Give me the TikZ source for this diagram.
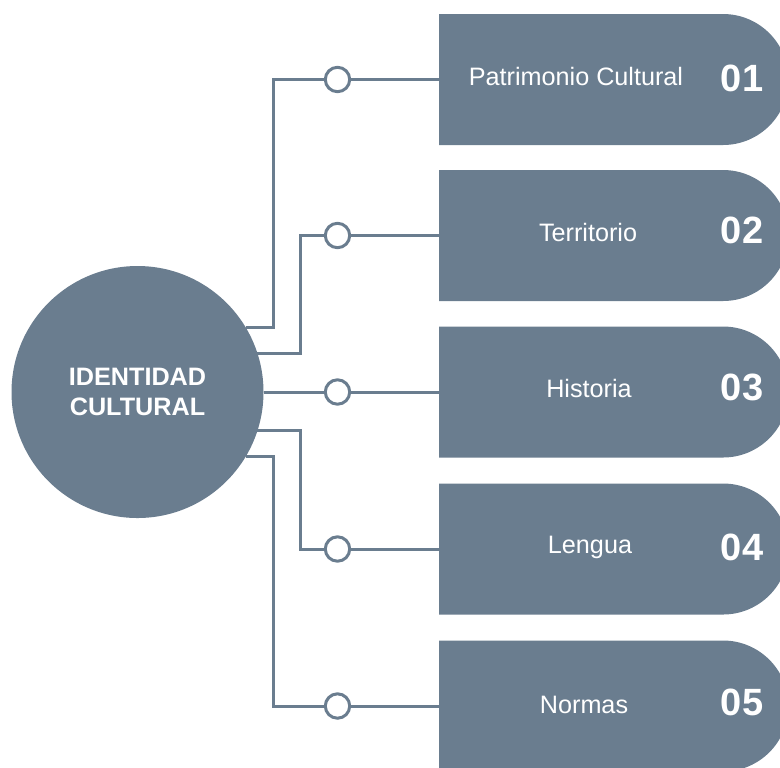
\documentclass[tikz,border=0pt]{standalone}
\usepackage{fontspec}
\setmainfont{Liberation Sans}
\usetikzlibrary{shapes.misc}
\definecolor{slate}{RGB}{106,125,143}
\tikzset{
  hub/.style={circle,fill=slate,minimum size=126pt,inner sep=0pt,outer sep=0pt,text=white,font=\fontsize{12.6}{15}\selectfont\bfseries,align=center},
  tab/.style={rounded rectangle,rounded rectangle left arc=none,fill=slate,minimum width=174.75pt,minimum height=65.5pt,inner sep=0pt,outer sep=0pt,anchor=west},
  knob/.style={circle,draw=slate,fill=white,line width=1.5pt,minimum size=12.2pt,inner sep=0pt},
  tabtext/.style={text=white,font=\fontsize{12.6}{15}\selectfont},
  tabnum/.style={text=white,font=\fontsize{19}{22}\selectfont\bfseries},
  wire/.style={draw=slate,line width=1.5pt}
}
\begin{document}
\begin{tikzpicture}[x=0.5pt,y=-0.5pt]
\useasboundingbox (0,0) rectangle (780,767);
\clip (0,0) rectangle (780,767);
% centre
\node[hub] (idc) at (137.5,392) {IDENTIDAD\\CULTURAL};
% tabs
\node[tab] (b1) at (439,79.5) {};
\node[tab] (b2) at (439,235.5) {};
\node[tab] (b3) at (439,392) {};
\node[tab] (b4) at (439,549) {};
\node[tab] (b5) at (439,706) {};
\node[tabtext] (t1) at (576,76) {Patrimonio Cultural};
\node[tabtext] (t2) at (588,232) {Territorio};
\node[tabtext] (t3) at (589,388) {Historia};
\node[tabtext] (t4) at (590,547) {Lengua};
\node[tabtext] (t5) at (584,705) {Normas};
\node[tabnum] (n1) at (742,78) {01};
\node[tabnum] (n2) at (742,230) {02};
\node[tabnum] (n3) at (742,387) {03};
\node[tabnum] (n4) at (742,547) {04};
\node[tabnum] (n5) at (742,702) {05};
% knobs
\node[knob] (k1) at (337.5,79.5) {};
\node[knob] (k2) at (337.5,235.5) {};
\node[knob] (k3) at (337.5,392) {};
\node[knob] (k4) at (337.5,549) {};
\node[knob] (k5) at (337.5,706) {};
\coordinate (j1) at (273.5,0);
\coordinate (j2) at (300,0);
% wires
\draw[wire] (idc.31) -- (j1 |- idc.31) |- (k1.west);
\draw[wire] (idc.18) -- (j2 |- idc.18) |- (k2.west);
\draw[wire] (idc.0) -- (k3.west);
\draw[wire] (idc.-18) -- (j2 |- idc.-18) |- (k4.west);
\draw[wire] (idc.-31) -- (j1 |- idc.-31) |- (k5.west);
\draw[wire] (k1.east) -- (b1.west);
\draw[wire] (k2.east) -- (b2.west);
\draw[wire] (k3.east) -- (b3.west);
\draw[wire] (k4.east) -- (b4.west);
\draw[wire] (k5.east) -- (b5.west);
\end{tikzpicture}
\end{document}
